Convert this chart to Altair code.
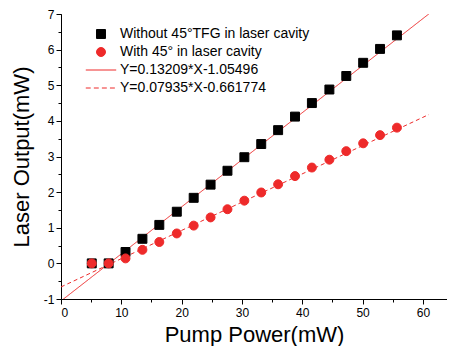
import altair as alt
import pandas as pd

# ---- data ----
pump = [5.1, 7.9, 10.7, 13.5, 16.3, 19.2, 22.0, 24.8, 27.6, 30.4,
        33.2, 36.0, 38.8, 41.6, 44.5, 47.3, 50.1, 52.9, 55.7]
without_tfg = [0.0, 0.0, 0.32, 0.69, 1.08, 1.45, 1.84, 2.21, 2.60, 2.98,
               3.35, 3.74, 4.12, 4.50, 4.88, 5.26, 5.63, 6.02, 6.40]
with_tfg = [0.0, 0.0, 0.14, 0.38, 0.60, 0.84, 1.06, 1.29, 1.52, 1.76,
            1.99, 2.22, 2.45, 2.69, 2.91, 3.15, 3.37, 3.60, 3.81]
fit_slopes = [0.13209, 0.07935]
fit_intercepts = [-1.05496, -0.661774]
fit_x = [0, 61]
labels = ["Without 45°TFG in laser cavity", "With 45° in laser cavity",
          "Y=0.13209*X-1.05496", "Y=0.07935*X-0.661774"]
x_major = [0, 10, 20, 30, 40, 50, 60]
x_minor = [0, 5, 10, 15, 20, 25, 30, 35, 40, 45, 50, 55, 60]
y_major = [-1, 0, 1, 2, 3, 4, 5, 6, 7]
y_minor = [-1, -0.5, 0, 0.5, 1, 1.5, 2, 2.5, 3, 3.5, 4, 4.5, 5, 5.5, 6, 6.5, 7]

# ---- tables ----
pts = pd.DataFrame({
    "x": pump + pump,
    "y": without_tfg + with_tfg,
    "series": [labels[0]] * len(pump) + [labels[1]] * len(pump),
})
rows = []
for i, (s, b) in enumerate(zip(fit_slopes, fit_intercepts)):
    for xv in fit_x:
        rows.append({"x": xv, "y": s * xv + b, "series": labels[2 + i]})
fits = pd.DataFrame(rows)

RED = "#ee2a2a"
colors = ["#000000", RED, RED, RED]
shapes = ["square", "circle", "M-3.4,0H3.4",
          "M-3.4,0H-2.3M-1.6,0H-0.5M0.2,0H1.3M2.0,0H3.1"]
FONT = "Liberation Sans"

xs = alt.Scale(domain=[0, 64], nice=False, zero=False)
ys = alt.Scale(domain=[-1, 7], nice=False, zero=False)
col_scale = alt.Scale(domain=labels, range=colors)
shape_scale = alt.Scale(domain=labels, range=shapes)

x_minor_axis = alt.Axis(orient="bottom", values=x_minor, labels=False, tickSize=3,
                        domain=False, grid=False, title=None, tickColor="black")
y_minor_axis = alt.Axis(orient="left", values=y_minor, labels=False, tickSize=3,
                        domain=False, grid=False, title=None, tickColor="black")
x_major_axis = alt.Axis(orient="bottom", values=x_major, labelExpr="'' + datum.value",
                        tickSize=5, grid=False, title="Pump Power(mW)",
                        domainColor="black", tickColor="black", labelColor="black",
                        labelFont=FONT, labelFontSize=12, labelPadding=3,
                        titleFont=FONT, titleFontSize=22, titleFontWeight="normal",
                        titleColor="black", titlePadding=6)
y_major_axis = alt.Axis(orient="left", values=y_major, labelExpr="'' + datum.value",
                        tickSize=5, grid=False, title="Laser Output(mW)",
                        domainColor="black", tickColor="black", labelColor="black",
                        labelFont=FONT, labelFontSize=12, labelPadding=2,
                        titleFont=FONT, titleFontSize=22, titleFontWeight="normal",
                        titleColor="black", titlePadding=10)

lines = alt.Chart(fits).mark_line(strokeWidth=1, clip=True).encode(
    x=alt.X("x:Q", scale=xs, axis=x_minor_axis),
    y=alt.Y("y:Q", scale=ys, axis=y_minor_axis),
    stroke=alt.Stroke("series:N", scale=col_scale, title=None),
    strokeDash=alt.StrokeDash("series:N", scale=alt.Scale(domain=labels[2:], range=[[1, 0], [4, 3]]),
                              legend=None),
)

points = alt.Chart(pts).mark_point(filled=True, opacity=1, strokeWidth=1, size=80).encode(
    x=alt.X("x:Q", scale=xs, axis=x_major_axis),
    y=alt.Y("y:Q", scale=ys, axis=y_major_axis),
    fill=alt.Fill("series:N", scale=col_scale, title=None),
    stroke=alt.Stroke("series:N", scale=col_scale, title=None),
    shape=alt.Shape("series:N", scale=shape_scale, title=None),
)

chart = alt.layer(lines, points).resolve_axis(
    x="independent", y="independent"
).properties(
    width=386, height=285,
    autosize=alt.AutoSizeParams(type="none"),
    padding={"left": 53, "top": 6, "right": 0, "bottom": 47},
).configure_view(stroke=None).configure_legend(
    orient="none", legendX=33, legendY=13, padding=0,
    labelFont=FONT, labelFontSize=14, labelColor="black", labelLimit=400,
    symbolSize=80, symbolStrokeWidth=1, labelOffset=12, rowPadding=4,
)

chart.save("out.html", embed_options={"renderer": "svg", "actions": False})
